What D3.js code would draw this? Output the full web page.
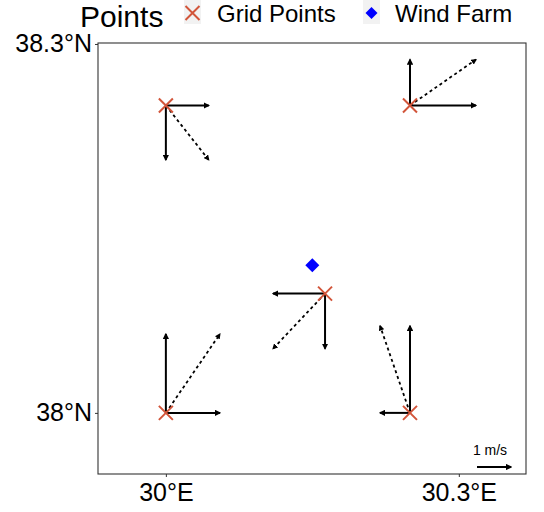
<!DOCTYPE html>
<html>
<head>
<meta charset="utf-8">
<script src="https://cdn.jsdelivr.net/npm/d3@7"></script>
<style>
  body { margin: 0; background: #fff; }
  text { font-family: "Liberation Sans", Arial, Helvetica, sans-serif; }
</style>
</head>
<body>
<div id="chart"></div>
<script>
// grid points and their wind components (m/s)
var gridLon = [30, 30.25, 30.163, 30, 30.25];
var gridLat = [38.25, 38.25, 38.097, 38, 38];
var uWind = [1.26, 1.94, -1.53, 1.59, -0.88];
var vWind = [-1.6, 1.35, -1.62, 2.32, 2.56];

var farmLon = [30.15];
var farmLat = [38.12];

var lonTicks = [30, 30.3];
var latTicks = [38, 38.3];
var lonTickLabels = ["30°E", "30.3°E"];
var latTickLabels = ["38°N", "38.3°N"];

var legendTitle = "Points";
var legendLabels = ["Grid Points", "Wind Farm"];
var refSpeed = 1;

var width = 544, height = 512;
var panelL = 98, panelR = 526, panelT = 43, panelB = 474;

var x = d3.scaleLinear().domain([29.9305, 30.3688]).range([panelL, panelR]);
var y = d3.scaleLinear().domain([37.9503, 38.3008]).range([panelB, panelT]);
// arrow length in pixels per m/s
var w = d3.scaleLinear().domain([0, 1]).range([0, 34]);

var svg = d3.select("#chart").append("svg")
    .attr("width", width)
    .attr("height", height);

var defs = svg.append("defs");
defs.append("marker")
    .attr("id", "head")
    .attr("viewBox", "0 0 10 10")
    .attr("refX", 8).attr("refY", 5)
    .attr("markerWidth", 3.2).attr("markerHeight", 3.2)
    .attr("orient", "auto")
    .append("path")
    .attr("d", "M0,0 L10,5 L0,10 Z")
    .attr("fill", "black");

// panel
svg.append("rect")
    .attr("x", panelL).attr("y", panelT)
    .attr("width", panelR - panelL).attr("height", panelB - panelT)
    .attr("fill", "white")
    .attr("stroke", "#333")
    .attr("stroke-width", 1.1);

// axes
var xAxis = d3.axisBottom(x).tickValues(lonTicks)
    .tickFormat(function (d, i) { return lonTickLabels[i]; })
    .tickSize(3).tickPadding(6);
var gx = svg.append("g").attr("transform", "translate(0," + panelB + ")").call(xAxis);
gx.select(".domain").remove();
gx.selectAll("line").attr("stroke", "#333");
gx.selectAll("text").style("font-size", "25px").attr("fill", "#000");

var yAxis = d3.axisLeft(y).tickValues(latTicks)
    .tickFormat(function (d, i) { return latTickLabels[i]; })
    .tickSize(3).tickPadding(3);
var gy = svg.append("g").attr("transform", "translate(" + panelL + ",0)").call(yAxis);
gy.select(".domain").remove();
gy.selectAll("line").attr("stroke", "#333");
gy.selectAll("text").style("font-size", "25px").attr("fill", "#000");

var pts = gridLon.map(function (d, i) {
    return { lon: d, lat: gridLat[i], u: uWind[i], v: vWind[i] };
});

var arrows = svg.append("g");
// u component
arrows.selectAll(".u").data(pts).enter().append("line")
    .attr("x1", function (d) { return x(d.lon); })
    .attr("y1", function (d) { return y(d.lat); })
    .attr("x2", function (d) { return x(d.lon) + w(d.u); })
    .attr("y2", function (d) { return y(d.lat); })
    .attr("stroke", "black").attr("stroke-width", 2)
    .attr("marker-end", "url(#head)");
// v component
arrows.selectAll(".v").data(pts).enter().append("line")
    .attr("x1", function (d) { return x(d.lon); })
    .attr("y1", function (d) { return y(d.lat); })
    .attr("x2", function (d) { return x(d.lon); })
    .attr("y2", function (d) { return y(d.lat) - w(d.v); })
    .attr("stroke", "black").attr("stroke-width", 2)
    .attr("marker-end", "url(#head)");
// resultant
arrows.selectAll(".r").data(pts).enter().append("line")
    .attr("x1", function (d) { return x(d.lon); })
    .attr("y1", function (d) { return y(d.lat); })
    .attr("x2", function (d) { return x(d.lon) + w(d.u); })
    .attr("y2", function (d) { return y(d.lat) - w(d.v); })
    .attr("stroke", "black").attr("stroke-width", 1.8)
    .attr("stroke-dasharray", "3,3")
    .attr("marker-end", "url(#head)");

// grid point crosses
var crossPath = "M-7,-7 L7,7 M-7,7 L7,-7";
svg.append("g").selectAll("path").data(pts).enter().append("path")
    .attr("transform", function (d) { return "translate(" + x(d.lon) + "," + y(d.lat) + ")"; })
    .attr("d", crossPath)
    .attr("stroke", "#d2553a").attr("stroke-width", 2).attr("fill", "none");

// wind farm
var diamond = "M0,-7 L7,0 L0,7 L-7,0 Z";
svg.append("g").selectAll("path").data(farmLon).enter().append("path")
    .attr("transform", function (d, i) { return "translate(" + x(d) + "," + y(farmLat[i]) + ")"; })
    .attr("d", diamond)
    .attr("fill", "#0000ff");

// reference arrow
svg.append("text")
    .attr("x", 490).attr("y", 455)
    .attr("text-anchor", "middle")
    .style("font-size", "14px")
    .text(refSpeed + " m/s");
svg.append("line")
    .attr("x1", 477).attr("y1", 467)
    .attr("x2", 477 + w(refSpeed)).attr("y2", 467)
    .attr("stroke", "black").attr("stroke-width", 2)
    .attr("marker-end", "url(#head)");

// legend
var legend = svg.append("g");
legend.append("text")
    .attr("x", 80).attr("y", 27)
    .style("font-size", "30px")
    .text(legendTitle);
var keyX = [184, 363];
var labelX = [217, 395];
legendLabels.forEach(function (lab, i) {
    legend.append("rect")
        .attr("x", keyX[i]).attr("y", 0)
        .attr("width", 17).attr("height", 24)
        .attr("fill", "#f2f2f2");
    var cx = keyX[i] + 8.5, cy = 13;
    if (i == 0) {
        legend.append("path")
            .attr("transform", "translate(" + cx + "," + cy + ")")
            .attr("d", crossPath)
            .attr("stroke", "#d2553a").attr("stroke-width", 2).attr("fill", "none");
    }
    else {
        legend.append("path")
            .attr("transform", "translate(" + cx + "," + cy + ")")
            .attr("d", "M0,-6 L6,0 L0,6 L-6,0 Z")
            .attr("fill", "#0000ff");
    }
    legend.append("text")
        .attr("x", labelX[i]).attr("y", 22)
        .style("font-size", "24px")
        .text(lab);
});
</script>
</body>
</html>
